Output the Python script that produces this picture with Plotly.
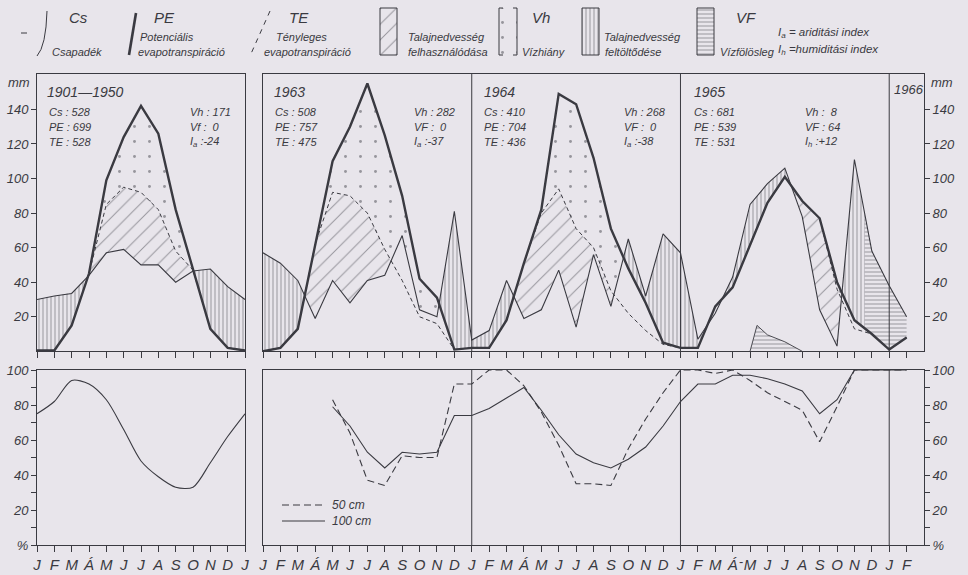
import numpy as np
import plotly.graph_objects as go

# ---------------- data ----------------
MONTHS = ["J", "F", "M", "Á", "M", "J", "J", "A", "S", "O", "N", "D"]
norm_months = MONTHS + ["J"]
ser_months = MONTHS * 3 + ["J", "F"]

# 1901-1950 averages, mm, Jan..Dec + Jan
cs_norm = [30, 32, 33.5, 44, 57, 59, 50, 50, 40, 46.5, 47.6, 37.4, 30]
pe_norm = [0.5, 0.5, 15, 45, 99, 124, 142, 126, 82, 47, 13, 2, 0.5]
te_norm = [0.5, 0.5, 15, 45, 85, 95, 92, 82, 58, 47, 13, 2, 0.5]

# Jan 1963 .. Feb 1966, mm
cs_ser = [57, 51, 41, 19, 41, 28, 41, 44, 67, 24, 20, 81,
          6.5, 12, 41, 19, 24, 47, 14, 56, 26, 65, 32, 68,
          57, 7, 22, 43, 85, 97, 106, 78, 24, 3, 111, 58,
          38, 20]
pe_ser = [0, 2, 13, 62, 110, 130, 155, 125, 90, 42, 31, 1,
          2, 2, 18, 51, 82, 149, 143, 112, 71, 48, 28, 5,
          2, 2, 26, 37, 62, 86, 101, 87, 77, 40, 18, 10,
          1, 8]
te_ser = [0, 2, 13, 62, 92, 90, 80, 59, 41, 20, 16, 1,
          2, 2, 18, 51, 80, 94, 71, 60, 35, 22, 12, 4,
          2, 2, 26, 37, 62, 86, 101, 87, 77, 36, 13, 10,
          1, 8]
surplus_from = 34.6          # Nov 1965: recharge turns into surplus
vf65_x = [28.0, 28.4, 29.0, 30.0, 31.0]   # summer 1965 surplus
vf65_y = [0, 15, 9.5, 5.5, 0]

# soil moisture, %
soil_norm = [75, 82, 94, 92, 83, 66, 48, 39, 33, 33, 47, 62, 75]
soil_start = 4   # May 1963
soil50 = [83, 64, 37, 34, 51, 50, 50, 92,
          92, 100, 100, 91, 76, 57, 35, 35, 34, 55, 72, 87,
          100, 100, 98, 100, 94, 87, 82, 77, 59, 79, 100, 100,
          100, 100]
soil100 = [79, 68, 53, 44, 53, 52, 53, 74,
           74, 78, 84, 90, 77, 63, 52, 47, 44, 49, 56, 68,
           82, 92, 92, 97, 97, 95, 92, 88, 75, 83, 100, 100,
           100, 100]

panel_text = [
    ("1901—1950", ["Cs : 528", "PE : 699", "TE : 528"],
     ["Vh : 171", "Vf :  0", "I<sub>a</sub> :-24"]),
    ("1963", ["Cs : 508", "PE : 757", "TE : 475"],
     ["Vh : 282", "VF :  0", "I<sub>a</sub> :-37"]),
    ("1964", ["Cs : 410", "PE : 704", "TE : 436"],
     ["Vh : 268", "VF :  0", "I<sub>a</sub> :-38"]),
    ("1965", ["Cs : 681", "PE : 539", "TE : 531"],
     ["Vh :  8", "VF : 64", "I<sub>h</sub> :+12"]),
]

# ---------------- style ----------------
W, H = 968, 575
FONT = "Liberation Sans Narrow, Liberation Sans, Arial, sans-serif"
INK = "#3a3a41"
HATCH = "#46464e"
BG = "#e8e5eb"


def fx(p):
    return p / W


def fy(p):
    return 1 - p / H


TOP_Y = [fy(351.3), fy(74)]
BOT_Y = [fy(545), fy(370)]
LEFT_X = [fx(37), fx(245)]
RIGHT_X = [fx(263), fx(924)]

PAT = {
    "diag": dict(shape="/", size=11, solidity=0.09),
    "dots": dict(shape=".", size=15, solidity=0.03),
    "vert": dict(shape="|", size=4, solidity=0.25),
    "horz": dict(shape="-", size=4, solidity=0.25),
}


def hatch_trace(xs, ys, xa, ya, kind, outline=0):
    p = dict(PAT[kind])
    p.update(fgcolor=HATCH, bgcolor="rgba(0,0,0,0)")
    return go.Scatter(x=list(xs), y=list(ys), xaxis=xa, yaxis=ya, mode="lines",
                      line=dict(width=outline, color=INK if outline else "rgba(0,0,0,0)"),
                      fill="toself", fillcolor="rgba(0,0,0,0)", fillpattern=p,
                      hoverinfo="skip", showlegend=False)


def runs(xf, u, l, keep=None):
    m = (u - l) > 1e-6
    if keep is not None:
        m &= keep
    out = []
    i, N = 0, len(xf)
    while i < N:
        if m[i]:
            j = i
            while j + 1 < N and m[j + 1]:
                j += 1
            a, b = max(i - 1, 0), min(j + 1, N - 1)
            xs = xf[a:b + 1]
            out.append((np.r_[xs, xs[::-1]], np.r_[u[a:b + 1], l[a:b + 1][::-1]]))
            i = j + 1
        else:
            i += 1
    return out


def balance_traces(cs, pe, te, xa, ya, surplus_x=None):
    x = np.arange(len(cs), dtype=float)
    xf = np.linspace(0, x[-1], int(round(x[-1] * 100)) + 1)
    c, p, t = (np.interp(xf, x, v) for v in (cs, pe, te))
    tr = []
    for xs, ys in runs(xf, p, np.maximum(t, c)):
        tr.append(hatch_trace(xs, ys, xa, ya, "dots"))
    for xs, ys in runs(xf, t, c):
        tr.append(hatch_trace(xs, ys, xa, ya, "diag"))
    if surplus_x is None:
        keep_v, keep_h = None, None
    else:
        keep_h = xf >= surplus_x
        keep_v = ~keep_h
    for xs, ys in runs(xf, c, p, keep_v):
        tr.append(hatch_trace(xs, ys, xa, ya, "vert"))
    if keep_h is not None:
        for xs, ys in runs(xf, c, p, keep_h):
            tr.append(hatch_trace(xs, ys, xa, ya, "horz"))
    return tr


def line_traces(cs, pe, te, xa, ya):
    x = list(range(len(cs)))
    return [
        go.Scatter(x=x, y=te, xaxis=xa, yaxis=ya, mode="lines",
                   line=dict(color=INK, width=1, dash="4px,3px"), hoverinfo="skip", showlegend=False),
        go.Scatter(x=x, y=cs, xaxis=xa, yaxis=ya, mode="lines",
                   line=dict(color=INK, width=1.1), hoverinfo="skip", showlegend=False),
        go.Scatter(x=x, y=pe, xaxis=xa, yaxis=ya, mode="lines",
                   line=dict(color=INK, width=2.4), hoverinfo="skip", showlegend=False),
    ]


traces = []
traces += balance_traces(cs_norm, pe_norm, te_norm, "x", "y")
traces += balance_traces(cs_ser, pe_ser, te_ser, "x2", "y2", surplus_from)
traces.append(hatch_trace(vf65_x, vf65_y, "x2", "y2", "horz", outline=0.9))
traces += line_traces(cs_norm, pe_norm, te_norm, "x", "y")
traces += line_traces(cs_ser, pe_ser, te_ser, "x2", "y2")

# soil moisture
traces.append(go.Scatter(x=list(range(13)), y=soil_norm, xaxis="x3", yaxis="y3", mode="lines",
                         line=dict(color=INK, width=1.1, shape="spline", smoothing=0.8),
                         hoverinfo="skip", showlegend=False))
xs_soil = list(range(soil_start, soil_start + len(soil50)))
traces.append(go.Scatter(x=xs_soil, y=soil50, xaxis="x4", yaxis="y4", mode="lines",
                         line=dict(color=INK, width=1.1, dash="7px,4px"), hoverinfo="skip", showlegend=False))
traces.append(go.Scatter(x=xs_soil, y=soil100, xaxis="x4", yaxis="y4", mode="lines",
                         line=dict(color=INK, width=1.1), hoverinfo="skip", showlegend=False))

# ---------------- legend (pixel overlay axis) ----------------
def rect(x0, x1, y0, y1):
    return [x0, x1, x1, x0, x0], [y0, y0, y1, y1, y0]


for (x0, x1), kind in [((380, 397), "diag"), ((499, 517), "dots"),
                       ((582, 599), "vert"), ((697, 714), "horz")]:
    rx, ry = rect(x0, x1, 8, 55)
    traces.append(hatch_trace(rx, ry, "x5", "y5", kind))
    if kind != "dots":
        traces.append(go.Scatter(x=rx, y=ry, xaxis="x5", yaxis="y5", mode="lines",
                                 line=dict(color=INK, width=1), hoverinfo="skip", showlegend=False))

fig = go.Figure(traces)

TICKFONT = dict(family=FONT, size=13, color=INK, style="italic")
common = dict(showline=True, linecolor=INK, linewidth=1, mirror=True, ticks="outside",
              tickcolor=INK, tickwidth=1, showgrid=False, zeroline=False, fixedrange=True,
              tickfont=TICKFONT, automargin=False)

fig.update_layout(
    width=W, height=H, autosize=False,
    margin=dict(l=0, r=0, t=0, b=0, pad=0, autoexpand=False),
    paper_bgcolor=BG, plot_bgcolor=BG,
    showlegend=False,
    xaxis=dict(common, domain=LEFT_X, range=[0, 12], anchor="y",
               tickvals=list(range(13)), showticklabels=False, ticklen=6),
    yaxis=dict(common, domain=TOP_Y, range=[0, 160.5], anchor="x",
               tickvals=[20, 40, 60, 80, 100, 120, 140], ticklen=5),
    xaxis2=dict(common, domain=RIGHT_X, range=[0, 38], anchor="y2",
                tickvals=list(range(38)), showticklabels=False, ticklen=6),
    yaxis2=dict(common, domain=TOP_Y, range=[0, 160.5], anchor="x2", side="right",
                tickvals=[20, 40, 60, 80, 100, 120, 140], ticklen=5),
    xaxis3=dict(common, domain=LEFT_X, range=[0, 12], anchor="y3",
                tickvals=list(range(13)), ticktext=norm_months, ticklen=6,
                tickfont=dict(TICKFONT, size=15)),
    yaxis3=dict(common, domain=BOT_Y, range=[0, 100], anchor="x3",
                tickvals=[0, 20, 40, 60, 80, 100], ticktext=["%", "20", "40", "60", "80", "100"],
                ticklen=5, minor=dict(tickvals=[10, 30, 50, 70, 90], ticks="outside",
                                      ticklen=5, tickcolor=INK)),
    xaxis4=dict(common, domain=RIGHT_X, range=[0, 38], anchor="y4",
                tickvals=list(range(38)), ticktext=ser_months, ticklen=6,
                tickfont=dict(TICKFONT, size=15)),
    yaxis4=dict(common, domain=BOT_Y, range=[0, 100], anchor="x4", side="right",
                tickvals=[0, 20, 40, 60, 80, 100], ticktext=["%", "20", "40", "60", "80", "100"],
                ticklen=5, minor=dict(tickvals=[10, 30, 50, 70, 90], ticks="outside",
                                      ticklen=5, tickcolor=INK)),
    xaxis5=dict(visible=False, domain=[0, 1], range=[0, W], anchor="y5", fixedrange=True),
    yaxis5=dict(visible=False, domain=[fy(62), 1], range=[62, 0], anchor="x5", fixedrange=True),
)

shapes = []
for yr in (12, 24, 36):
    shapes.append(dict(type="line", xref="x2", yref="y2 domain", x0=yr, x1=yr, y0=0, y1=1,
                       line=dict(color=INK, width=1)))
    shapes.append(dict(type="line", xref="x4", yref="y4 domain", x0=yr, x1=yr, y0=0, y1=1,
                       line=dict(color=INK, width=1)))
# legend symbols
shapes += [
    dict(type="line", xref="x5", yref="y5", x0=21, x1=27, y0=33, y1=33, line=dict(color=INK, width=1)),
    dict(type="path", xref="x5", yref="y5", path="M 47,11 Q 46,46 37,56", line=dict(color=INK, width=1)),
    dict(type="line", xref="x5", yref="y5", x0=136, x1=129, y0=13, y1=55, line=dict(color=INK, width=2.6)),
    dict(type="line", xref="x5", yref="y5", x0=270, x1=250, y0=11, y1=56,
         line=dict(color=INK, width=1, dash="5px,5px")),
    dict(type="path", xref="x5", yref="y5", path="M 503,8 L 499,8 L 499,55 L 503,55",
         line=dict(color=INK, width=1)),
    dict(type="path", xref="x5", yref="y5", path="M 513,8 L 517,8 L 517,55 L 513,55",
         line=dict(color=INK, width=1)),
    # soil-moisture legend
    dict(type="line", xref="paper", yref="paper", x0=fx(282), x1=fx(325), y0=fy(505), y1=fy(505),
         line=dict(color=INK, width=1.1, dash="7px,4px")),
    dict(type="line", xref="paper", yref="paper", x0=fx(282), x1=fx(325), y0=fy(521), y1=fy(521),
         line=dict(color=INK, width=1.1)),
]
fig.update_layout(shapes=shapes)


def txt(x, y, s, size=11, anchor="left"):
    return dict(x=fx(x), y=fy(y), xref="paper", yref="paper", text=s, showarrow=False,
                xanchor=anchor, yanchor="middle",
                font=dict(family=FONT, size=size, color=INK, style="italic"))


ann = []
# legend texts
ann += [
    txt(78, 17, "Cs", 15, "center"), txt(50, 52, "Csapadék"),
    txt(164, 17, "PE", 15, "center"), txt(138, 37, "Potenciális"), txt(136, 52, "evapotranspiráció"),
    txt(299, 17, "TE", 15, "center"), txt(274, 37, "Tényleges"), txt(262, 52, "evapotranspiráció"),
    txt(406, 37, "Talajnedvesség"), txt(406, 52, "felhasználódása"),
    txt(541, 17, "Vh", 15, "center"), txt(520, 52, "Vízhiány"),
    txt(602, 37, "Talajnedvesség"), txt(603, 52, "feltöltődése"),
    txt(746, 17, "VF", 15, "center"), txt(718, 52, "Vízfölösleg"),
    txt(776, 33, "I<sub>a</sub> = ariditási index", 11.5), txt(776, 50, "I<sub>h</sub> =humiditási index", 11.5),
]
# panel texts
pos = [(45, 47, 188), (272, 273, 412), (482, 482, 622), (692, 692, 803)]
for (title, c1, c2), (xt, x1, x2) in zip(panel_text, pos):
    ann.append(txt(xt, 92, title, 14))
    for k, (a, b) in enumerate(zip(c1, c2)):
        ann.append(txt(x1, 112 + 15 * k, a, 11))
        ann.append(txt(x2, 112 + 15 * k, b, 11))
ann.append(txt(892, 90, "1966", 13))
# axis unit labels
ann += [txt(32, 82, "mm", 13, "right"), txt(929, 82, "mm", 13, "left")]
ann += [txt(330, 505, "50 cm", 12), txt(330, 521, "100 cm", 12)]
ann.append(dict(x=27.5, y=fy(561), xref="x4", yref="paper", text="-", showarrow=False,
                xanchor="center", yanchor="middle",
                font=dict(family=FONT, size=13, color=INK)))
fig.update_layout(annotations=ann)

fig.write_html("out.html", config={"displayModeBar": False, "staticPlot": True},
               post_script="document.body.style.margin='0';document.body.style.overflow='hidden';")
